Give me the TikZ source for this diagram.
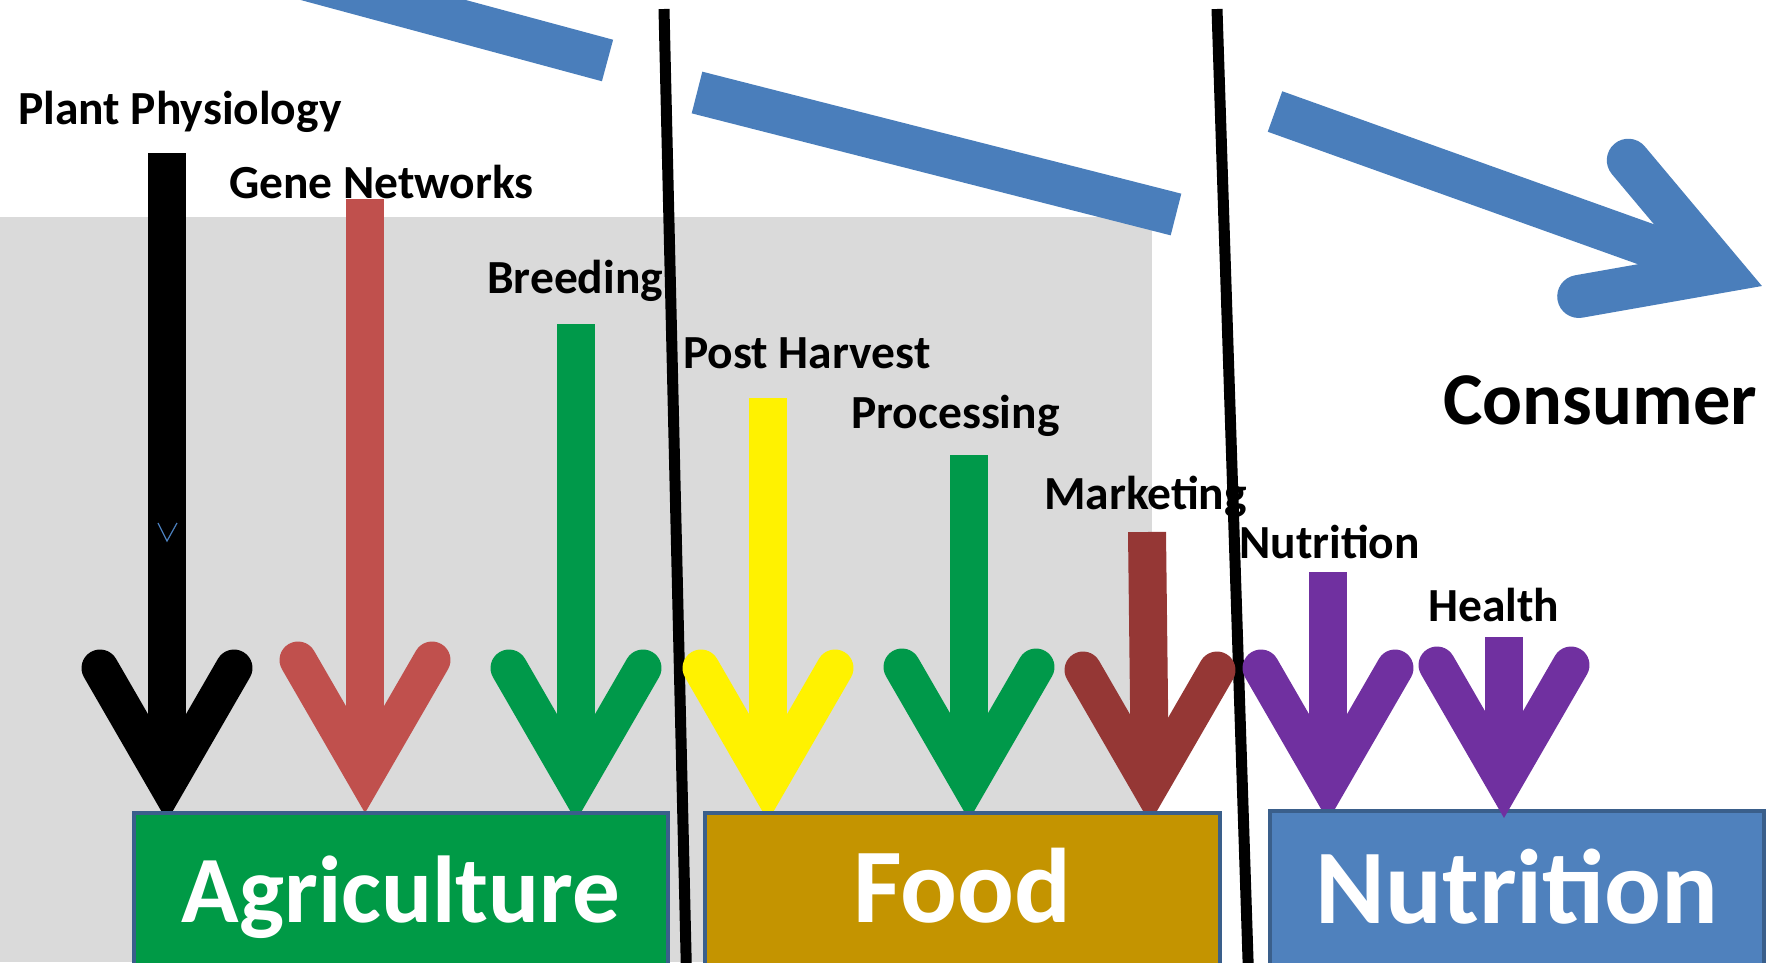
\documentclass[tikz,border=0pt]{standalone}
\usepackage{fontspec}
\setmainfont{Carlito}
\usepackage{tikz}
\definecolor{arrowblue}{HTML}{4A7EBB}
\definecolor{genered}{HTML}{C0504D}
\definecolor{breedgreen}{HTML}{00994A}
\definecolor{markred}{HTML}{953735}
\definecolor{healthpurple}{HTML}{7030A0}
\definecolor{agrigreen}{HTML}{009A46}
\definecolor{foodgold}{HTML}{C49400}
\definecolor{nutrblue}{HTML}{4F81BD}
\definecolor{boxline}{HTML}{3A5F8B}
\definecolor{bggray}{HTML}{DADADA}
\tikzset{
  lbl/.style={font=\bfseries\fontsize{47.5}{56}\selectfont, inner sep=0pt, anchor=base west},
  box/.style={draw=boxline, line width=4pt, anchor=north west, inner sep=0pt},
  boxtext/.style={text=white, inner sep=0pt, anchor=base},
  bluebar/.style={draw=arrowblue, line width=43pt},
  headpart/.style={line width=37pt, line cap=round, line join=miter, miter limit=4}
}

\begin{document}
\begin{tikzpicture}[x=1pt, y=-1pt]
    \useasboundingbox (0,0) rectangle (1776,962);
    \clip (0,0) rectangle (1776,962);
    \fill[bggray] (0,217) rectangle (1152,962);
    \draw[bluebar] (272,-30) -- (607.5,60.5);
    \draw[bluebar] (697,92.5) -- (1176,214.5);
    \draw[bluebar] (1275,111.5) -- (1721.5,271.3);
    \draw[bluebar, line cap=round, line join=miter, miter limit=4] (1721.5,271.3) ++(230:145) -- (1721.5,271.3) -- ++(170:145);
    \draw[line width=11pt] (664,9) -- (686.5,975);
    \draw[line width=11pt] (1217,9) -- (1248.5,975);
    \foreach \x/\top/\by/\col/\dx in {167/153/668/black/0, 365/199/660/genered/0, 576/324/668/breedgreen/0, 768/398/668/yellow/0, 969/455/667/breedgreen/0, 1150/532/670/markred/-3, 1328/572/668/healthpurple/0} {
        \draw[\col, line width=38pt] (\x+\dx,\top) -- (\x,\by+116);
        \draw[\col, headpart] (\x-67,\by) -- (\x,\by+116) -- (\x+67,\by);
    }
    \draw[arrowblue, line width=1.2pt] (158,523) -- (167,541) -- (177,523);
    \foreach \x/\y/\txt [count=\i] in {18/124/Plant Physiology, 229/198/Gene Networks, 487/293/Breeding, 683/368/Post Harvest, 851/428/Processing, 1044/509/Marketing, 1239/558/Nutrition, 1428/621/Health}
        \node[lbl] (lab\i) at (\x,\y) {\txt};
    \node[lbl, font=\bfseries\fontsize{74.5}{88}\selectfont] (cons) at (1443,424) {Consumer};
    \node[box, fill=agrigreen, minimum width=534pt, minimum height=200pt] (agri) at (132,811) {};
    \node[box, fill=foodgold, minimum width=515pt, minimum height=200pt] (food) at (703,811) {};
    \node[box, fill=nutrblue, minimum width=494pt, minimum height=200pt] (nutr) at (1268,809) {};
    \node[boxtext, font=\bfseries\fontsize{95}{114}\selectfont] (agritxt) at ([yshift=-111pt]agri.north) {Agriculture};
    \node[boxtext, font=\bfseries\fontsize{106}{127}\selectfont] (foodtxt) at ([yshift=-111pt]food.north) {Food};
    \node[boxtext, font=\bfseries\fontsize{106}{127}\selectfont] (nutrtxt) at ([yshift=-114pt]nutr.north) {Nutrition};
    \draw[healthpurple, line width=38pt] (1504,637) -- (1504,781);
    \draw[healthpurple, headpart] (1437,665) -- (1504,781) -- (1571,665);
\end{tikzpicture}
\end{document}
